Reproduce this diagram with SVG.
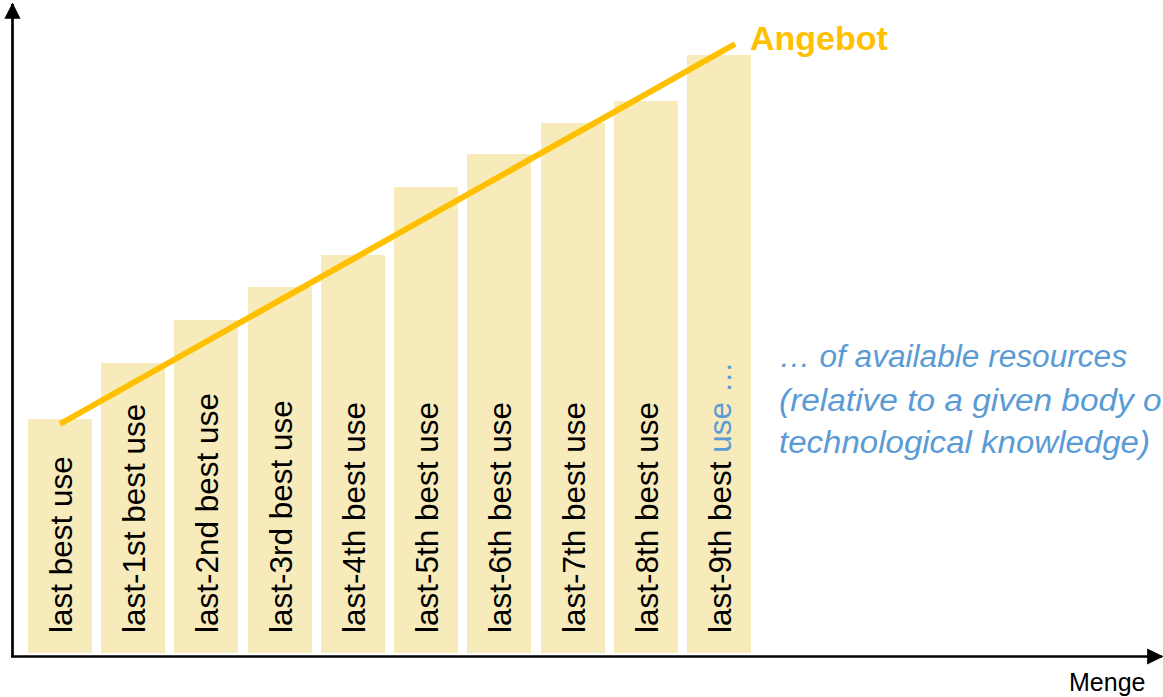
<svg xmlns="http://www.w3.org/2000/svg" width="1163" height="697" viewBox="0 0 1163 697">
<style>
.bar{fill:#F8EBBB}
.lbl{font-family:"Liberation Sans",Arial,sans-serif;font-size:31.5px;fill:#000}
.blue{fill:#5B9BD5}
.note{font-family:"Liberation Sans",Arial,sans-serif;font-size:31px;font-style:italic;fill:#5B9BD5}
.axis{stroke:#000;stroke-width:2.7;fill:none}
</style>
<defs>
<marker id="ah" markerWidth="6" markerHeight="6" refX="5.5" refY="3" orient="auto" markerUnits="strokeWidth" viewBox="0 0 6 6">
<path d="M0,0 L6,3 L0,6 Z" fill="#000"/>
</marker>
</defs>
<rect width="1163" height="697" fill="#fff"/>
<g id="bar1"><rect class="bar" x="28" y="419" width="64" height="234"/><text class="lbl" transform="translate(72,633) rotate(-90)">last best use</text></g>
<g id="bar2"><rect class="bar" x="101" y="363" width="64" height="290"/><text class="lbl" transform="translate(145,633) rotate(-90)">last-1st best use</text></g>
<g id="bar3"><rect class="bar" x="174" y="320" width="64" height="333"/><text class="lbl" transform="translate(218,633) rotate(-90)">last-2nd best use</text></g>
<g id="bar4"><rect class="bar" x="248" y="287" width="64" height="366"/><text class="lbl" transform="translate(292,633) rotate(-90)">last-3rd best use</text></g>
<g id="bar5"><rect class="bar" x="321" y="255" width="64" height="398"/><text class="lbl" transform="translate(365,633) rotate(-90)">last-4th best use</text></g>
<g id="bar6"><rect class="bar" x="394" y="187" width="64" height="466"/><text class="lbl" transform="translate(438,633) rotate(-90)">last-5th best use</text></g>
<g id="bar7"><rect class="bar" x="467" y="154" width="64" height="499"/><text class="lbl" transform="translate(511,633) rotate(-90)">last-6th best use</text></g>
<g id="bar8"><rect class="bar" x="541" y="123" width="64" height="530"/><text class="lbl" transform="translate(585,633) rotate(-90)">last-7th best use</text></g>
<g id="bar9"><rect class="bar" x="614" y="101" width="64" height="552"/><text class="lbl" transform="translate(658,633) rotate(-90)">last-8th best use</text></g>
<g id="bar10"><rect class="bar" x="687" y="55" width="64" height="598"/><text class="lbl" transform="translate(731,633) rotate(-90)">last-9th best <tspan class="blue">use …</tspan></text></g>
<g id="connectors">
<line class="axis" x1="12.5" y1="657" x2="12.5" y2="4" marker-end="url(#ah)"/>
<line class="axis" x1="11" y1="656.5" x2="1162" y2="656.5" marker-end="url(#ah)"/>
<line x1="60" y1="424" x2="735" y2="44" stroke="#FFC000" stroke-width="6"/>
</g>
<g id="angebot"><text x="750" y="50" font-family="Liberation Sans,Arial,sans-serif" font-weight="bold" font-size="34" fill="#FFC000">Angebot</text></g>
<g id="menge"><text x="1069" y="691" font-family="Liberation Sans,Arial,sans-serif" font-size="25" fill="#000">Menge</text></g>
<g id="note">
<text class="note" x="779" y="367" textLength="348" lengthAdjust="spacingAndGlyphs">… of available resources</text>
<text class="note" x="779" y="411" textLength="392" lengthAdjust="spacingAndGlyphs">(relative to a given body of</text>
<text class="note" x="779" y="453" textLength="371" lengthAdjust="spacingAndGlyphs">technological knowledge)</text>
</g>
</svg>
